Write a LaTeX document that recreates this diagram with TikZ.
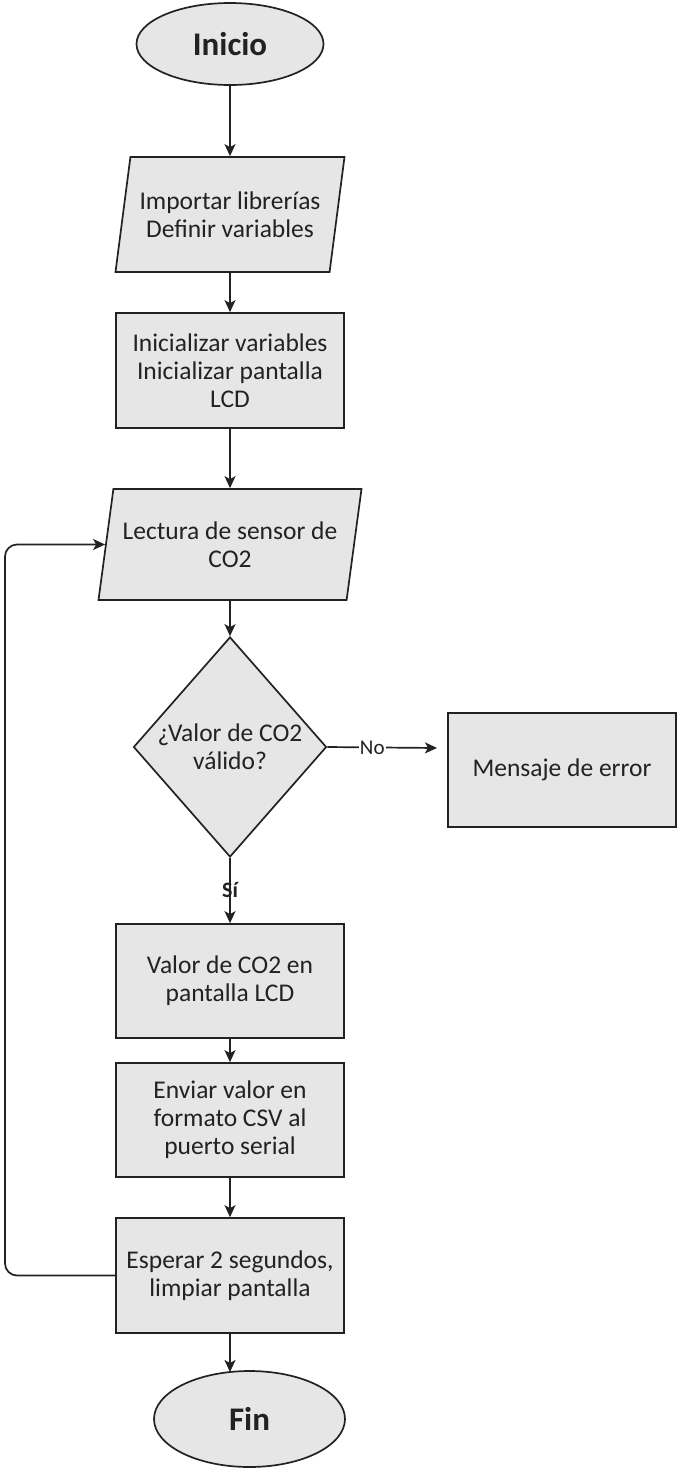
\documentclass[tikz,border=0pt]{standalone}
\usepackage{fontspec}
\setmainfont{Carlito}
\usetikzlibrary{shapes.geometric,arrows.meta}
\definecolor{boxfill}{HTML}{E6E6E6}
\definecolor{ink}{HTML}{222222}
\begin{document}
\begin{tikzpicture}[x=1pt,y=-1pt,
  base/.style={draw=ink, fill=boxfill, line width=1.7pt, text=ink,
    font=\fontsize{25.5}{28}\selectfont, align=center, inner sep=0pt},
  term/.style={base, ellipse, font=\bfseries\fontsize{33}{36}\selectfont},
  proc/.style={base, rectangle, minimum width=228pt, minimum height=115pt},
  io/.style={base, trapezium, trapezium left angle=72, trapezium right angle=108,
    trapezium stretches body},
  decision/.style={base, diamond, aspect=0.877, minimum width=193pt, minimum height=220pt},
  flow/.style={draw=ink, line width=1.7pt, -{Stealth[length=12pt,width=11pt,inset=3pt]}},
  lbl/.style={text=ink, font=\fontsize{21}{23}\selectfont, inner sep=1pt}
]
\useasboundingbox (0,0) rectangle (678,1468);

\node[term, minimum width=187pt, minimum height=82pt] (start) at (230,44) {Inicio};
\node[io, minimum width=229pt, minimum height=115pt] (p1) at (230,214.5) {Importar librerías\\Definir variables};
\node[proc] (r1) at (230,370.5) {Inicializar variables\\Inicializar pantalla\\LCD};
\node[io, minimum width=263pt, minimum height=111pt] (p2) at (230,544.5) {Lectura de sensor de\\CO2};
\node[decision] (d) at (230,747) {¿Valor de CO2\\válido?};
\node[proc, minimum height=114pt] (err) at (562,770) {Mensaje de error};
\node[proc, minimum height=114pt] (r2) at (230,981) {Valor de CO2 en\\pantalla LCD};
\node[proc, minimum height=114pt] (r3) at (230,1120) {Enviar valor en\\formato CSV al\\puerto serial};
\node[proc] (r4) at (230,1275.5) {Esperar 2 segundos,\\limpiar pantalla};
\node[term, minimum width=191pt, minimum height=96pt] (fin) at (249.5,1419) {Fin};

\coordinate (noend) at (437,748);
\coordinate (fintop) at (230,1372);
\coordinate (loopx) at (5,900);

\draw[flow] (start.south) -- (p1.north);
\draw[flow] (p1.south) -- (r1.north);
\draw[flow] (r1.south) -- (p2.north);
\draw[flow] (p2.south) -- (d.north);
\draw[flow] (d.east) -- node[lbl, fill=white, pos=0.41] {No} (noend);
\draw[flow] (d.south) -- node[lbl, pos=0.49, font=\bfseries\fontsize{22}{24}\selectfont] {Sí} (r2.north);
\draw[flow] (r2.south) -- (r3.north);
\draw[flow] (r3.south) -- (r4.north);
\draw[flow] (r4.south) -- (fintop);
\draw[flow, rounded corners=12pt] (r4.west) -- (r4.west -| loopx) -- (p2.west -| loopx) -- (p2.west);
\end{tikzpicture}
\end{document}
